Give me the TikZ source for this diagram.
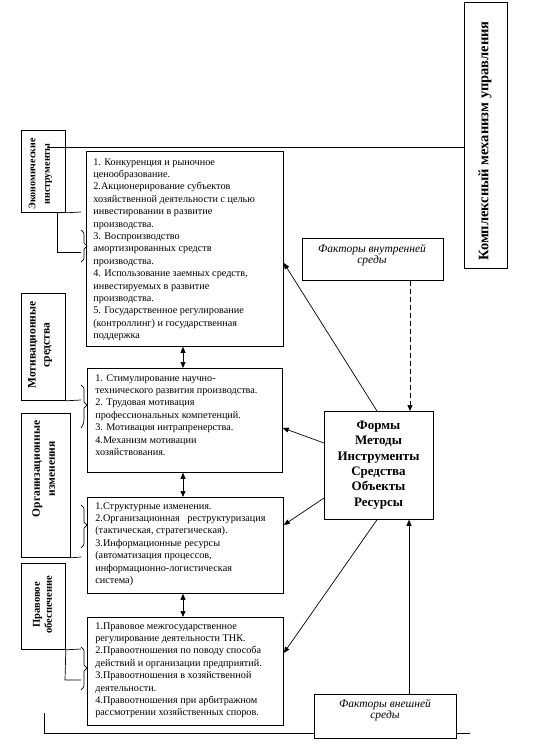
\documentclass[tikz,border=0pt]{standalone}
\usepackage{fontspec}
\setmainfont{Liberation Serif}
\usetikzlibrary{arrows.meta,calc}
\begin{document}
\begin{tikzpicture}[x=1pt,y=-1pt,line width=0.7pt,
  box/.style={draw,line width=0.8pt,anchor=north west,inner sep=0pt},
  txt/.style={anchor=north west,inner sep=0pt,align=left,font=\fontsize{10.2}{12.4}\selectfont},
  arr/.style={-{Triangle[length=6pt,width=5pt]}},
  darr/.style={{Triangle[length=6pt,width=5pt]}-{Triangle[length=6pt,width=5pt]}},
  vtxt/.style={rotate=90,align=center,inner sep=0pt}]
\useasboundingbox (0,0) rectangle (551,750);

% right vertical box
\node[box,minimum width=43pt,minimum height=266pt] (cm) at (464,2) {};
\node[vtxt,font=\bfseries\fontsize{14.5}{16}\selectfont] (cmt) at (485,141) {Комплексный механизм управления};

% main boxes
\node[box,minimum width=197pt,minimum height=195pt] (b1) at (86,151) {};
\node[txt] (t1) at (93,158) {1. Конкуренция и рыночное\\ценообразование.\\2.Акционерирование субъектов\\хозяйственной деятельности с целью\\инвестировании в развитие\\производства.\\3. Воспроизводство\\амортизированных средств\\производства.\\4. Использование заемных средств,\\инвестируемых в развитие\\производства.\\5. Государственное регулирование\\(контроллинг) и государственная\\поддержка};

\node[box,minimum width=195pt,minimum height=104pt] (b2) at (87,368) {};
\node[txt] (t2) at (95,374) {1. Стимулирование научно-\\технического развития производства.\\2. Трудовая мотивация\\профессиональных компетенций.\\3. Мотивация интрапренерства.\\4.Механизм мотивации\\хозяйствования.};

\node[box,minimum width=196pt,minimum height=96pt] (b3) at (87,497) {};
\node[txt] (t3) at (95,502) {1.Структурные изменения.\\2.Организационная\ \ \ реструктуризация\\(тактическая, стратегическая).\\3.Информационные ресурсы\\(автоматизация процессов,\\информационно-логистическая\\система)};

\node[box,minimum width=196pt,minimum height=108pt] (b4) at (87,617) {};
\node[txt] (t4) at (95,622) {1.Правовое межгосударственное\\регулирование деятельности ТНК.\\2.Правоотношения по поводу способа\\действий и организации предприятий.\\3.Правоотношения в хозяйственной\\деятельности.\\4.Правоотношения при арбитражном\\рассмотрении хозяйственных споров.};

% central box
\node[box,minimum width=109pt,minimum height=108pt] (cen) at (324,411) {};
\node[align=center,font=\bfseries\fontsize{13}{15.4}\selectfont,inner sep=0pt] (cent) at (378.5,465) {Формы\\Методы\\Инструменты\\Средства\\Объекты\\Ресурсы};

% factor boxes
\node[box,minimum width=141pt,minimum height=42pt] (int) at (302,238) {};
\node[align=center,font=\itshape\fontsize{11.5}{10.5}\selectfont,inner sep=0pt] (intt) at (372,255) {Факторы внутренней\\среды};
\node[box,minimum width=142pt,minimum height=44pt] (ext) at (314,694) {};
\node[align=center,font=\itshape\fontsize{11.5}{10.5}\selectfont,inner sep=0pt] (extt) at (385,710) {Факторы внешней\\среды};

% left boxes
\node[box,minimum width=44pt,minimum height=82pt] (econ) at (21,130) {};
\node[vtxt,font=\bfseries\fontsize{10}{14.5}\selectfont] (econt) at (40.5,174) {Экономические\\инструменты};
\node[box,minimum width=44pt,minimum height=107pt] (mot) at (21,293) {};
\node[vtxt,font=\bfseries\fontsize{11.5}{14}\selectfont] (mott) at (40,345) {Мотивационные\\средства};
\node[box,minimum width=49pt,minimum height=144pt] (org) at (21,413) {};
\node[vtxt,font=\bfseries\fontsize{11.5}{15}\selectfont] (orgt) at (43.5,469) {Организационные\\изменения};
\node[box,minimum width=44pt,minimum height=86pt] (prav) at (21,563) {};
\node[vtxt,font=\bfseries\fontsize{10.5}{12}\selectfont] (pravt) at (42.5,605) {Правовое\\обеспечение};

% top and bottom frame lines
\coordinate (tl) at (48,147);
\draw (tl) -- (cm.west |- tl);
\coordinate (bl) at (44,713);
\draw (bl) -- (44,733) -- (ext.west |- 0,733);
\draw (ext.east |- 0,733) -- (470,733);

% double arrows
\draw[darr] (b1.south -| 183,0) -- (b2.north -| 183,0);
\draw[darr] (b2.south -| 183,0) -- (b3.north -| 183,0);
\draw[darr] (b3.south -| 183,0) -- (b4.north -| 183,0);

% central connectors
\draw[arr] (cen.north -| 377,0) -- (b1.east |- 0,263);
\draw[arr] (cen.west |- 0,443) -- (b2.east |- 0,428);
\draw[arr] (cen.west |- 0,498) -- (b3.east |- 0,525);
\draw[arr] (cen.south -| 377,0) -- (b4.east |- 0,653);
\draw[arr,dash pattern=on 5pt off 3pt] (int.south -| 410,0) -- (cen.north -| 410,0);
\draw[arr] (ext.north -| 409,0) -- (cen.south -| 409,0);

% left connectors and braces
\draw (econ.south east) -- (81,212);
\draw (econ.south -| 57,0) -- (57,252) -- (81,252);
\draw (81,230) .. controls (84,232) .. (84,237) -- (84,243) -- (87,246) -- (84,249) -- (84,255) .. controls (84,260) .. (81,262);

\draw (mot.south east) -- (81,400);
\draw (81,385) .. controls (84,387) .. (84,392) -- (84,402) -- (87,405) -- (84,408) -- (84,419) .. controls (84,423) .. (81,428);

\draw (org.south east) -- (81,557);
\draw (81,505) .. controls (84,507) .. (84,512) -- (84,522) -- (87,525) -- (84,528) -- (84,541) .. controls (84,545) .. (81,548);

\draw (prav.south east) -- (81,649);
\draw (prav.south east) -- (65,680) -- (81,680);
\draw (81,647) .. controls (84,649) .. (84,654) -- (84,665) -- (87,668) -- (84,671) -- (84,683) .. controls (84,687) .. (81,690);
\end{tikzpicture}
\end{document}
